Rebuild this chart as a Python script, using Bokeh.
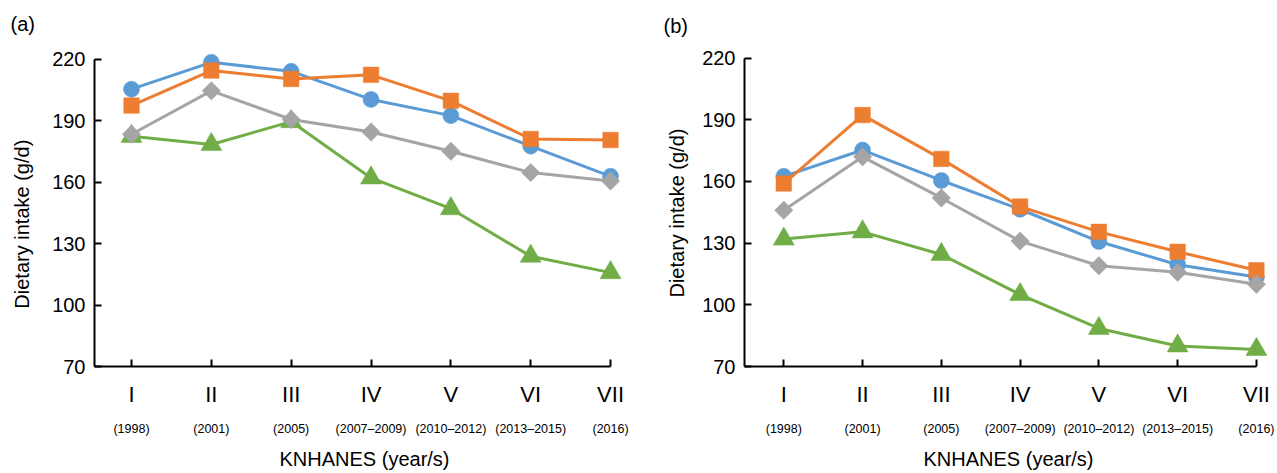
import math
from bokeh.plotting import figure
from bokeh.layouts import row
from bokeh.models import Range1d, LinearAxis, FixedTicker, Title
from bokeh.embed import file_html
from bokeh.resources import INLINE

# ---------------- data ----------------
waves = ["I", "II", "III", "IV", "V", "VI", "VII"]
years = ["(1998)", "(2001)", "(2005)", "(2007\u20132009)", "(2010\u20132012)", "(2013\u20132015)", "(2016)"]
y_ticks = [70, 100, 130, 160, 190, 220]

a_blue = [205.3, 218.4, 214.0, 200.3, 192.4, 177.5, 162.8]
a_orange = [197.3, 214.4, 210.3, 212.3, 199.6, 181.0, 180.5]
a_gray = [183.3, 204.5, 190.5, 184.4, 175.0, 164.6, 160.5]
a_green = [182.3, 178.3, 189.5, 162.0, 147.0, 123.8, 115.8]

b_blue = [162.5, 175.3, 160.5, 146.5, 130.8, 119.5, 113.5]
b_orange = [159.0, 192.3, 171.0, 147.8, 135.5, 125.8, 116.8]
b_gray = [146.0, 172.0, 152.0, 131.0, 119.0, 115.8, 110.0]
b_green = [132.0, 135.5, 124.5, 105.0, 88.5, 80.0, 78.3]

BLUE = "#5B9BD5"
ORANGE = "#ED7D31"
GRAY = "#A5A5A5"
GREEN = "#70AD47"
FONT = "Liberation Sans"
Y_TITLE = "Dietary intake (g/d)"

xs = list(range(len(waves)))


def make_panel(tag, blue, orange, gray, green, width, x_start, x_end, y_end,
               mbl, mbr, mbt, mbb, ylab_standoff, ylab_pad, tag_offset, tag_standoff):
    p = figure(width=width, height=472, output_backend="svg", toolbar_location=None,
               x_range=Range1d(x_start, x_end), y_range=Range1d(70, y_end),
               min_border_left=mbl, min_border_right=mbr,
               min_border_top=mbt, min_border_bottom=mbb)
    p.title = Title(text=tag, align="left", vertical_align="top", offset=tag_offset,
                    standoff=tag_standoff, text_font=FONT, text_font_size="20px",
                    text_font_style="normal", text_color="black")
    p.xgrid.visible = False
    p.ygrid.visible = False
    p.outline_line_color = None
    p.background_fill_color = "white"
    p.border_fill_color = "white"

    # x axis: roman numerals
    xa = p.xaxis[0]
    xa.ticker = FixedTicker(ticks=xs)
    xa.major_label_overrides = {i: w for i, w in enumerate(waves)}
    xa.bounds = (x_start, len(waves) - 1)
    xa.axis_line_width = 2
    xa.axis_line_color = "black"
    xa.major_tick_in = 7
    xa.major_tick_out = 0
    xa.major_tick_line_width = 2
    xa.minor_tick_line_color = None
    xa.major_label_text_font = FONT
    xa.major_label_text_font_size = "22px"
    xa.major_label_text_color = "black"
    xa.major_label_standoff = 15

    # second x axis: years + title
    xa2 = LinearAxis(ticker=FixedTicker(ticks=xs),
                     major_label_overrides={i: y for i, y in enumerate(years)})
    xa2.axis_line_color = None
    xa2.major_tick_line_color = None
    xa2.minor_tick_line_color = None
    xa2.major_tick_in = 0
    xa2.major_tick_out = 0
    xa2.minor_tick_in = 0
    xa2.minor_tick_out = 0
    xa2.major_label_text_font = FONT
    xa2.major_label_text_font_size = "12.5px"
    xa2.major_label_text_color = "black"
    xa2.major_label_standoff = 12
    xa2.axis_label = "KNHANES (year/s)"
    xa2.axis_label_text_font = FONT
    xa2.axis_label_text_font_size = "20px"
    xa2.axis_label_text_font_style = "normal"
    xa2.axis_label_text_color = "black"
    xa2.axis_label_standoff = 9
    p.add_layout(xa2, "below")

    # y axis
    ya = p.yaxis[0]
    ya.ticker = FixedTicker(ticks=y_ticks)
    ya.bounds = (70, 220)
    ya.axis_line_width = 2
    ya.axis_line_color = "black"
    ya.major_tick_in = 7
    ya.major_tick_out = 0
    ya.major_tick_line_width = 2
    ya.minor_tick_line_color = None
    ya.major_label_text_font = FONT
    ya.major_label_text_font_size = "20px"
    ya.major_label_text_color = "black"
    ya.major_label_standoff = 9
    # trailing no-break spaces nudge the centred title slightly downward, as in the original
    ya.axis_label = Y_TITLE + "\u00a0" * ylab_pad
    ya.axis_label_text_font = FONT
    ya.axis_label_text_font_size = "20px"
    ya.axis_label_text_font_style = "normal"
    ya.axis_label_text_color = "black"
    ya.axis_label_standoff = ylab_standoff

    # series (drawing order: green, blue, orange, gray)
    p.line(xs, green, line_color=GREEN, line_width=3)
    p.scatter(xs, green, marker="triangle", size=21, fill_color=GREEN, line_color=GREEN, line_width=0.5)
    p.line(xs, blue, line_color=BLUE, line_width=3)
    p.scatter(xs, blue, marker="circle", size=16, fill_color=BLUE, line_color=BLUE, line_width=0.5)
    p.line(xs, orange, line_color=ORANGE, line_width=3)
    p.scatter(xs, orange, marker="square", size=15.5, fill_color=ORANGE, line_color=ORANGE, line_width=0.5)
    p.line(xs, gray, line_color=GRAY, line_width=3)
    p.scatter(xs, gray, marker="square", angle=math.pi / 4, size=13, fill_color=GRAY,
              line_color=GRAY, line_width=0.5)
    return p


pa = make_panel("(a)", a_blue, a_orange, a_gray, a_green, width=640,
                x_start=-0.4635, x_end=6.30, y_end=225.15,
                mbl=94, mbr=6, mbt=47, mbb=104, ylab_standoff=16, ylab_pad=6,
                tag_offset=-84, tag_standoff=24)
pb = make_panel("(b)", b_blue, b_orange, b_gray, b_green, width=636,
                x_start=-0.499, x_end=6.204, y_end=224.7,
                mbl=104, mbr=4, mbt=43, mbb=103, ylab_standoff=11, ylab_pad=2,
                tag_offset=-81, tag_standoff=20)

layout = row(pa, pb, spacing=0)
open("out.html", "w").write(file_html(layout, INLINE))
